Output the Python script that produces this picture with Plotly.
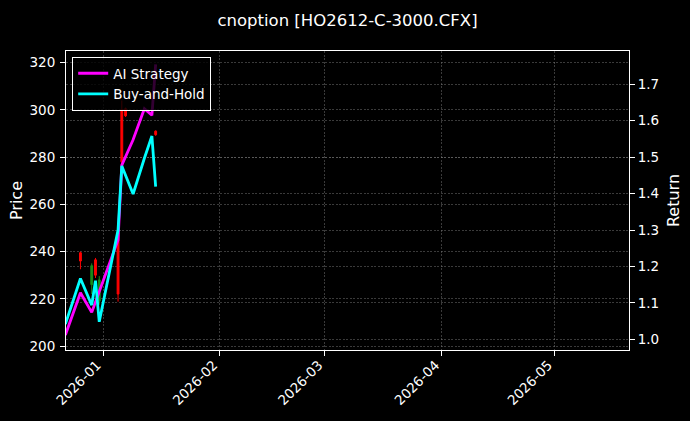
import plotly.graph_objects as go

# Option candles (price axis, left)
candle_dates = ['2025-12-26', '2025-12-29', '2025-12-30', '2025-12-31',
                '2026-01-05', '2026-01-06', '2026-01-07', '2026-01-15']
candle_open = [239.5, 226.0, 236.5, 219.0, 248.0, 300.0, 300.5, 291.0]
candle_high = [240.0, 235.0, 237.3, 229.6, 250.0, 304.0, 301.0, 291.3]
candle_low = [232.5, 222.0, 228.8, 217.5, 218.8, 276.0, 297.0, 289.0]
candle_close = [236.0, 234.0, 230.0, 228.0, 222.0, 278.0, 297.5, 289.5]

# Cumulative returns (right axis)
ret_dates = ['2025-12-22', '2025-12-26', '2025-12-29', '2025-12-30', '2025-12-31',
             '2026-01-05', '2026-01-06', '2026-01-09', '2026-01-12', '2026-01-14',
             '2026-01-15']
ai_strategy = [1.012, 1.128, 1.074, 1.103, 1.133, 1.273, 1.478, 1.548, 1.633, 1.615, 1.755]
buy_and_hold = [1.042, 1.167, 1.094, 1.161, 1.048, 1.300, 1.476, 1.399, 1.497, 1.558, 1.419]

month_ticks = ['2026-01-01', '2026-02-01', '2026-03-01', '2026-04-01', '2026-05-01']
month_labels = ['2026-01', '2026-02', '2026-03', '2026-04', '2026-05']

font = 'DejaVu Sans'
grid = 'rgba(128,128,128,0.45)'
W, H = 690, 421

fig = go.Figure()

fig.add_trace(go.Candlestick(
    x=candle_dates, open=candle_open, high=candle_high,
    low=candle_low, close=candle_close,
    increasing=dict(line=dict(color='#1a8c1a', width=1), fillcolor='#1a8c1a'),
    decreasing=dict(line=dict(color='#ff0000', width=1), fillcolor='#ff0000'),
    whiskerwidth=0, showlegend=False, yaxis='y'))

fig.add_trace(go.Scatter(x=ret_dates, y=ai_strategy, mode='lines', name='AI Strategy',
                         line=dict(color='#ff00ff', width=2.8), yaxis='y2'))
fig.add_trace(go.Scatter(x=ret_dates, y=buy_and_hold, mode='lines', name='Buy-and-Hold',
                         line=dict(color='#00ffff', width=2.8), yaxis='y2'))

fig.update_layout(
    width=W, height=H,
    paper_bgcolor='black', plot_bgcolor='black',
    font=dict(family=font, size=13.5, color='white'),
    margin=dict(l=66, r=61, t=51, b=71),
    title=dict(text='cnoption [HO2612-C-3000.CFX]', x=(347.5 / W), xanchor='center',
               y=1 - 20 / H, yanchor='middle', font=dict(size=16.5, color='white')),
    xaxis=dict(
        type='date', range=['2025-12-22 03:50', '2026-05-20 20:40'],
        tickvals=month_ticks, ticktext=month_labels, tickangle=-45,
        ticklabelshift=-6, ticklabelstandoff=-4, automargin=False,
        showline=True, linecolor='white', linewidth=1, mirror=True,
        ticks='outside', ticklen=5, tickcolor='white',
        showgrid=True, gridcolor=grid, gridwidth=0.6, griddash='2px,1.5px',
        rangeslider=dict(visible=False), zeroline=False),
    yaxis=dict(
        range=[198.31, 324.94], tickvals=[200, 220, 240, 260, 280, 300, 320],
        ticklabelstandoff=2, automargin=False,
        title=dict(text='Price', standoff=2),
        showline=True, linecolor='white', linewidth=1, mirror=True,
        ticks='outside', ticklen=5, tickcolor='white',
        showgrid=True, gridcolor=grid, gridwidth=0.6, griddash='2px,1.5px',
        zeroline=False),
    yaxis2=dict(
        overlaying='y', side='right', range=[0.9707, 1.7915],
        tickvals=[1.0, 1.1, 1.2, 1.3, 1.4, 1.5, 1.6, 1.7], tickformat='.1f',
        title=dict(text='Return', standoff=9), automargin=False,
        showline=True, linecolor='white', linewidth=1,
        ticks='outside', ticklen=5, tickcolor='white',
        showgrid=True, gridcolor=grid, gridwidth=0.6, griddash='2px,1.5px',
        zeroline=False),
    legend=dict(x=0.011, y=0.98, xanchor='left', yanchor='top',
                bgcolor='rgba(0,0,0,0.8)', bordercolor='white', borderwidth=1,
                font=dict(size=13.5, color='white')),
)

# page has a default 8px white body margin; make it flush and black
fig.write_html("out.html", config={'displayModeBar': False},
               post_script="document.body.style.margin='0';document.body.style.background='black';")
